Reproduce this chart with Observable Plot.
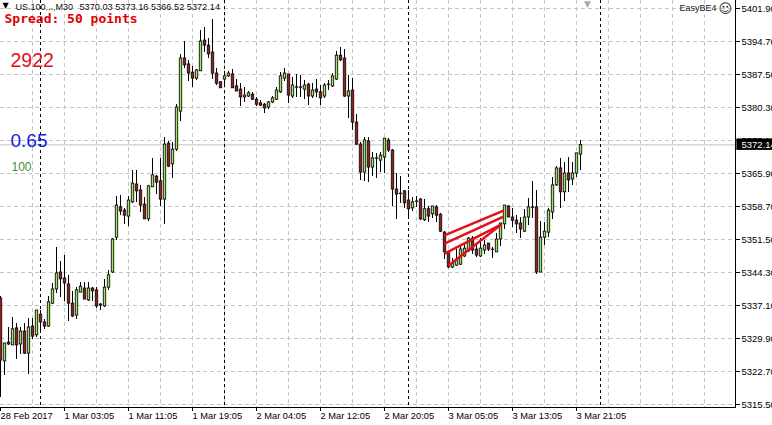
<!DOCTYPE html>
<html><head><meta charset="utf-8">
<style>html,body{margin:0;padding:0;background:#fff;overflow:hidden}svg{display:block}</style>
<script src="https://cdn.jsdelivr.net/npm/d3@7"></script>
<script src="https://cdn.jsdelivr.net/npm/@observablehq/plot@0.6"></script>
</head><body><div id="chart"></div>
<script>
const open = [5338.6,5324.9,5329.0,5328.4,5332.1,5328.6,5331.4,5326.6,5332.5,5330.6,5335.1,5333.4,5332.5,5337.5,5340.6,5344.3,5343.0,5341.7,5337.5,5334.9,5339.9,5340.8,5338.2,5340.8,5340.4,5337.3,5336.9,5341.0,5344.3,5351.9,5358.5,5357.8,5356.5,5359.6,5363.5,5362.2,5359.1,5355.9,5362.9,5365.2,5364.2,5360.2,5372.4,5367.9,5371.1,5379.4,5391.0,5389.7,5387.9,5386.6,5388.2,5394.9,5393.8,5392.3,5387.7,5385.8,5386.4,5387.1,5387.5,5384.9,5384.2,5382.5,5382.7,5383.1,5382.0,5381.2,5380.9,5380.3,5381.4,5382.0,5383.6,5386.6,5387.5,5382.7,5384.6,5384.6,5384.2,5385.3,5382.7,5384.2,5383.6,5382.7,5385.2,5384.9,5386.4,5391.6,5391.0,5382.7,5384.0,5377.0,5372.2,5366.1,5372.9,5367.2,5369.1,5368.7,5369.4,5373.1,5370.9,5362.4,5361.4,5362.0,5360.0,5358.3,5359.7,5360.2,5355.7,5358.1,5357.0,5358.5,5356.9,5353.0,5348.7,5345.4,5345.8,5346.0,5347.8,5348.9,5351.7,5349.3,5347.8,5349.1,5350.6,5349.2,5348.7,5351.5,5354.8,5358.7,5356.3,5355.6,5355.0,5353.2,5356.3,5358.4,5358.5,5344.3,5351.9,5353.0,5357.4,5363.3,5367.0,5361.8,5365.9,5364.6,5365.9,5370.03];
const high = [5339.1,5328.8,5332.3,5334.5,5333.2,5332.3,5333.2,5334.3,5334.3,5336.0,5336.0,5334.0,5339.1,5341.9,5349.8,5346.7,5348.0,5343.7,5340.2,5341.0,5342.1,5342.1,5342.1,5341.0,5341.0,5337.5,5342.8,5344.7,5351.7,5360.9,5361.1,5358.3,5360.9,5366.6,5366.6,5363.3,5360.6,5363.3,5369.2,5365.5,5369.2,5373.8,5372.9,5372.7,5380.9,5391.9,5394.7,5390.6,5389.3,5388.6,5397.1,5397.8,5395.4,5399.5,5388.8,5386.0,5388.2,5388.2,5388.6,5386.4,5385.5,5384.7,5383.8,5383.6,5382.5,5381.8,5381.2,5381.6,5382.7,5384.7,5387.9,5388.8,5387.5,5386.9,5387.5,5387.3,5386.2,5385.5,5385.5,5386.4,5385.1,5385.5,5386.2,5387.7,5392.5,5393.4,5393.0,5387.3,5386.6,5378.8,5372.7,5373.8,5373.8,5370.5,5370.3,5370.5,5373.5,5373.5,5371.1,5365.9,5365.2,5362.2,5362.2,5360.7,5360.9,5360.4,5360.2,5358.7,5358.7,5358.9,5357.2,5353.2,5348.9,5347.4,5349.3,5350.2,5350.6,5351.9,5352.2,5350.6,5351.7,5351.3,5350.6,5349.8,5352.8,5355.0,5358.9,5358.9,5358.3,5356.7,5356.3,5358.1,5360.4,5364.2,5362.2,5355.4,5355.2,5358.3,5365.0,5367.4,5369.2,5368.3,5369.4,5368.3,5370.3,5373.16];
const low = [5317.0,5321.8,5328.4,5328.4,5325.3,5326.4,5326.4,5322.05,5329.7,5330.1,5331.4,5331.9,5332.3,5337.3,5339.7,5338.9,5338.0,5333.6,5334.5,5334.0,5339.9,5338.4,5338.0,5338.0,5336.4,5336.0,5336.7,5340.4,5344.1,5351.3,5356.7,5354.8,5354.3,5359.4,5359.6,5357.4,5355.9,5355.4,5362.9,5361.3,5358.7,5354.8,5367.2,5364.8,5370.7,5377.3,5388.8,5386.0,5384.7,5386.2,5388.2,5392.3,5391.0,5386.4,5385.1,5384.5,5385.1,5386.9,5384.5,5383.8,5380.5,5381.4,5382.5,5381.8,5380.5,5380.5,5379.0,5379.9,5381.2,5381.8,5383.4,5386.0,5381.2,5382.3,5382.5,5382.5,5382.0,5380.7,5382.3,5382.5,5380.7,5382.3,5384.0,5384.7,5386.2,5390.4,5382.5,5377.9,5375.3,5372.0,5364.4,5364.2,5363.9,5365.2,5364.8,5366.1,5365.9,5370.5,5358.7,5355.9,5359.4,5358.3,5356.3,5357.6,5358.5,5355.7,5355.4,5355.2,5356.1,5355.2,5353.0,5347.1,5345.2,5345.2,5345.6,5345.8,5347.6,5348.7,5348.2,5347.6,5347.6,5348.2,5348.9,5347.4,5348.7,5350.0,5353.7,5356.3,5354.1,5352.8,5351.7,5353.0,5354.6,5356.1,5343.9,5344.3,5350.2,5351.9,5355.9,5363.1,5358.3,5359.8,5361.8,5363.3,5365.0,5366.52];
const close = [5325.1,5328.8,5328.6,5331.9,5328.4,5331.4,5326.6,5332.3,5330.3,5336.0,5333.4,5332.5,5337.8,5340.6,5344.1,5342.8,5341.9,5337.5,5334.7,5340.4,5341.2,5338.4,5340.8,5340.2,5336.9,5337.1,5341.0,5343.7,5351.5,5358.9,5357.6,5356.7,5360.0,5363.7,5362.0,5358.9,5355.9,5363.1,5365.5,5363.9,5360.2,5372.2,5367.4,5371.1,5380.3,5391.0,5389.5,5387.7,5386.6,5388.4,5394.7,5393.8,5391.9,5387.7,5385.5,5384.5,5387.1,5387.7,5384.5,5383.8,5382.5,5382.9,5383.4,5382.0,5380.9,5380.7,5380.1,5381.4,5382.3,5384.0,5387.1,5387.7,5382.9,5385.1,5384.7,5384.7,5385.1,5382.7,5384.0,5383.6,5382.3,5385.1,5385.3,5387.1,5391.6,5390.6,5382.7,5383.8,5377.0,5372.2,5366.1,5373.1,5367.2,5369.2,5369.2,5369.8,5373.5,5370.9,5362.4,5361.3,5361.5,5359.4,5358.1,5359.6,5359.8,5355.9,5358.1,5356.5,5358.7,5356.7,5353.2,5348.7,5345.4,5346.3,5347.1,5349.3,5349.5,5351.7,5349.1,5348.0,5349.5,5350.2,5349.3,5349.3,5351.5,5355.0,5358.9,5356.3,5355.6,5354.8,5353.7,5356.3,5358.5,5358.5,5344.3,5351.9,5353.2,5357.8,5363.3,5367.0,5361.8,5365.9,5364.4,5365.9,5370.3,5372.14];

const priceTicks = [5401.9,5394.7,5387.5,5380.3,5373.1,5365.9,5358.7,5351.5,5344.3,5337.1,5329.9,5322.7,5315.5];
const timeTicks = [0,16,32,48,64,80,96,112,128,144];
const timeLabels = ["28 Feb 2017","1 Mar 03:05","1 Mar 11:05","1 Mar 19:05","2 Mar 04:05","2 Mar 12:05","2 Mar 20:05","3 Mar 05:05","3 Mar 13:05","3 Mar 21:05"];
const gridBars = [8,16,24,32,40,48,56,64,72,80,88,96,104,112,120,128,136,144,152,160,168,176];
const daySeparators = [10,56,102,150];
const fanStartBar = [111,111,111,112];
const fanStartPrice = [5352.4,5350.6,5348.4,5345.8];
const fanEndBar = [125.75,125.75,125.25,125.25];
const fanEndPrice = [5357.8,5356.5,5354.8,5354.8];

const bars = open.map((o,i)=>({i,o,h:high[i],l:low[i],c:close[i]}));
const fans = fanStartBar.map((x1,i)=>({x1,y1:fanStartPrice[i],x2:fanEndBar[i],y2:fanEndPrice[i]}));
const lastClose = close[close.length-1];
const sans = "Liberation Sans";

const note = (text,opts)=>Plot.text([text],{frameAnchor:"top-left",textAnchor:"start",lineAnchor:"middle",fontFamily:sans,...opts});

const chart = Plot.plot({
  width:772,height:425,marginLeft:0,marginRight:37,marginTop:0,marginBottom:18,
  style:{background:"#fff",fontFamily:sans},
  x:{type:"linear",domain:[0,183.75],range:[0,735]},
  y:{domain:[5315.5,5401.9],range:[404,8]},
  marks:[
    Plot.ruleX(gridBars,{stroke:"#c4c4c4",strokeDasharray:"4,3"}),
    Plot.ruleY(priceTicks,{stroke:"#c4c4c4",strokeDasharray:"4,3"}),
    Plot.ruleY([lastClose],{stroke:"#c0c0c0"}),
    Plot.ruleX(daySeparators,{stroke:"#000",strokeDasharray:"3,3"}),
    Plot.ruleX(bars,{x:"i",y1:"l",y2:"h",stroke:"#000",shapeRendering:"crispEdges"}),
    Plot.rect(bars,{x1:d=>d.i-0.3,x2:d=>d.i+0.3,y1:"o",y2:"c",dx:0.5,
      fill:d=>d.c>=d.o?"#9bea55":"#9c1c1c",stroke:"#111",strokeWidth:0.9}),
    Plot.link(fans,{x1:"x1",y1:"y1",x2:"x2",y2:"y2",stroke:"#e3101c",strokeWidth:2.5}),
    Plot.frame({anchor:"bottom",stroke:"#000"}),
    Plot.frame({anchor:"right",stroke:"#000"}),
    Plot.axisX(timeTicks,{tickSize:4,tickPadding:1,textAnchor:"start",fontSize:9.3,fill:"#000",
      tickFormat:d=>timeLabels[timeTicks.indexOf(d)],label:null}),
    Plot.axisY(priceTicks,{anchor:"right",tickSize:4,tickPadding:2,fontSize:9.5,fill:"#000",
      tickFormat:d=>d.toFixed(2),label:null}),
    Plot.rect([lastClose],{x1:184.1,x2:193,y1:d=>d-1.2,y2:d=>d+1.3,fill:"#000",clip:false}),
    Plot.text([lastClose],{x:185.25,y:d=>d,text:d=>d.toFixed(2),fill:"#fff",textAnchor:"start",fontSize:9.5,fontFamily:sans,clip:false}),
    Plot.text(["▼"],{frameAnchor:"top",x:[146.75],dy:0,fontSize:9,fill:"#aaa",fontFamily:"DejaVu Sans"}),
    note("▼",{dx:2,dy:5,fontSize:8,fill:"#000",fontFamily:"DejaVu Sans"}),
    note("US.100...,M30",{dx:15,dy:7,fontSize:9,fill:"#111"}),
    note("5370.03 5373.16 5366.52 5372.14",{dx:79,dy:7,fontSize:9.2,fill:"#111"}),
    note("Spread: 50 points",{dx:4,dy:18,fontSize:13,fontWeight:"bold",fill:"#e00000",fontFamily:"DejaVu Sans Mono"}),
    note("2922",{dx:10,dy:60,fontSize:19.5,fill:"#e01020"}),
    note("0.65",{dx:10,dy:140,fontSize:19,fill:"#1420dc"}),
    note("100",{dx:11,dy:167,fontSize:12,fill:"#3f8f3a"}),
    note("EasyBE4",{dx:679,dy:8,fontSize:9,fill:"#222"}),
    note("☺",{dx:718,dy:8,fontSize:13,fill:"#222",fontFamily:"DejaVu Sans"})
  ]
});
document.getElementById("chart").appendChild(chart);
</script>
</body></html>
